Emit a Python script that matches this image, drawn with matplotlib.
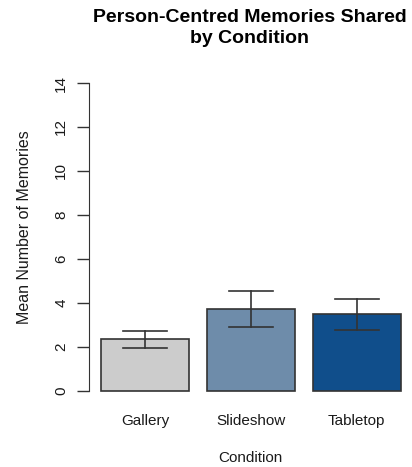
import matplotlib
matplotlib.use("Agg")
import matplotlib.pyplot as plt
import numpy as np

conditions = ["Gallery", "Slideshow", "Tabletop"]
means = [2.33, 3.70, 3.48]
err_low = [1.95, 2.90, 2.77]
err_high = [2.73, 4.52, 4.18]
colors = ["#CCCCCC", "#6E8CAA", "#104E8B"]
yticks = [0, 2, 4, 6, 8, 10, 12, 14]

plt.rcParams['font.family'] = ['Liberation Sans', 'DejaVu Sans']

fig = plt.figure(figsize=(4.12, 4.67), dpi=100)
ax = fig.add_axes([89/412, 1-403/467, (412.7-89)/412, (403-70.7)/467])

width = 1.0
space = 0.2
lefts = np.array([space + i*(width+space) for i in range(len(conditions))])
centers = lefts + width/2

ax.bar(centers, means, width=width, color=colors, edgecolor="#333333", linewidth=1.2, zorder=2)
for c, lo, hi in zip(centers, err_low, err_high):
    ax.plot([c, c], [lo, hi], color="#333333", lw=1.2, zorder=3)
    ax.plot([c-0.25, c+0.25], [lo, lo], color="#333333", lw=1.2, zorder=3)
    ax.plot([c-0.25, c+0.25], [hi, hi], color="#333333", lw=1.2, zorder=3)

xmin, xmax = lefts[0], lefts[-1] + width
ext = 0.04*(xmax - xmin)
ax.set_xlim(xmin - ext, xmax + ext)
ax.set_ylim(0 - 0.56, 14 + 0.56)

for s in ["top", "right", "bottom"]:
    ax.spines[s].set_visible(False)
ax.spines["left"].set_bounds(0, 14)
ax.spines["left"].set_color("#333333")
ax.set_yticks(yticks)
ax.set_yticklabels([str(t) for t in yticks], rotation=90, va="center", fontsize=11, color="#1a1a1a")
ax.tick_params(axis="y", length=9, width=1, color="#333333", pad=6)
ax.set_xticks(centers)
ax.set_xticklabels(conditions, fontsize=11, color="#1a1a1a")
ax.tick_params(axis="x", length=0, pad=8)

fig.text(250/412, 1-458/467, "Condition", ha="center", va="center", fontsize=11, color="#1a1a1a")
fig.text(25/412, 1-227/467, "Mean Number of Memories", ha="center", va="center", rotation=90,
         fontsize=11.5, color="#1a1a1a")

fig.text(250/412, 1-28/467, "Person-Centred Memories Shared\nby Condition", ha="center", va="center",
         fontsize=14, fontweight="bold", linespacing=1.3)

fig.savefig("out.png", dpi=100)
